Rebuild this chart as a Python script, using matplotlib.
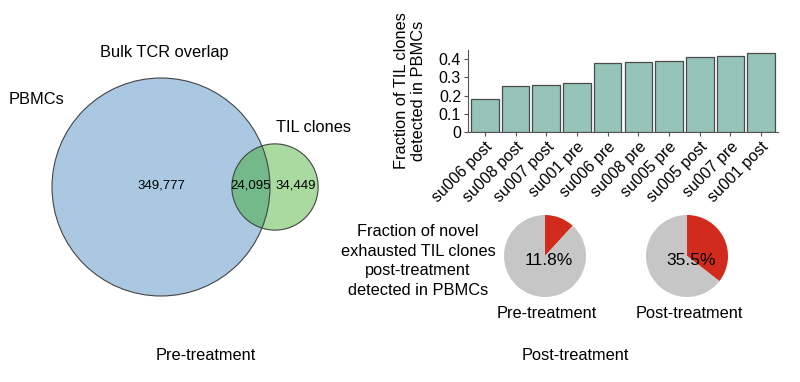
import numpy as np
import matplotlib
matplotlib.use("Agg")
from matplotlib import pyplot as plt
from matplotlib.patches import Circle

plt.rcParams['font.family'] = ['Liberation Sans', 'DejaVu Sans']

# venn counts
pbmc_only = 349777
shared = 24095
til_only = 34449

# bar data
samples = ['su006 post', 'su008 post', 'su007 post', 'su001 pre', 'su006 pre',
           'su008 pre', 'su005 pre', 'su005 post', 'su007 pre', 'su001 post']
fractions = [0.181, 0.254, 0.259, 0.270, 0.380, 0.384, 0.390, 0.409, 0.415, 0.435]
yticks = [0, 0.1, 0.2, 0.3, 0.4]

# pie data
pie_names = ['Pre-treatment', 'Post-treatment']
pie_pcts = [11.8, 35.5]

BLUE = '#aac8e2'
GREEN = '#a9dba0'
OVERLAP = '#74b98a'
TEAL = '#96c4b8'
RED = '#d12b1e'
GREY = '#c6c6c6'

fig = plt.figure(figsize=(8, 3.82), dpi=100)

# full-figure axes in pixel coordinates for venn + free text
ax = fig.add_axes([0, 0, 1, 1])
ax.set_xlim(0, 800)
ax.set_ylim(382, 0)
ax.axis('off')

scale = 109 / np.sqrt(pbmc_only + shared)
r_big = scale * np.sqrt(pbmc_only + shared)
r_small = scale * np.sqrt(til_only + shared)
c_big = (161, 187)
c_small = (275, 187)

big = Circle(c_big, r_big, facecolor=BLUE, edgecolor='none')
small = Circle(c_small, r_small, facecolor=GREEN, edgecolor='none')
ax.add_patch(big)
ax.add_patch(small)
lens = Circle(c_big, r_big, facecolor=OVERLAP, edgecolor='none')
ax.add_patch(lens)
lens.set_clip_path(small)
ax.add_patch(Circle(c_big, r_big, fill=False, edgecolor='#444444', lw=0.8))
ax.add_patch(Circle(c_small, r_small, fill=False, edgecolor='#444444', lw=0.8))

ax.text(161, 186, f'{pbmc_only:,}', ha='center', va='center', fontsize=9.5)
ax.text(251, 186, f'{shared:,}', ha='center', va='center', fontsize=9.5)
ax.text(296, 186, f'{til_only:,}', ha='center', va='center', fontsize=9.5)
ax.text(164, 52, 'Bulk TCR overlap', ha='center', va='center', fontsize=11.8)
ax.text(36, 100, 'PBMCs', ha='center', va='center', fontsize=11.8)
ax.text(313, 128, 'TIL clones', ha='center', va='center', fontsize=11.8)
ax.text(206, 355, 'Pre-treatment', ha='center', va='center', fontsize=11.8)
ax.text(575, 355, 'Post-treatment', ha='center', va='center', fontsize=11.8)
ax.text(418, 261, 'Fraction of novel\nexhausted TIL clones\npost-treatment\ndetected in PBMCs',
        ha='center', va='center', fontsize=11.8, linespacing=1.38)

# bar chart
bx = fig.add_axes([468 / 800, 1 - 132 / 382, 310 / 800, 82 / 382])
pos = np.arange(len(samples))
bx.bar(pos, fractions, width=0.9, color=TEAL, edgecolor='#4a4a4a', linewidth=0.9)
bx.set_xlim(-0.55, len(samples) - 0.45)
bx.set_ylim(0, 0.45)
bx.set_yticks(yticks)
bx.set_yticklabels(['0' if v == 0 else f'{v:.1f}' for v in yticks], fontsize=11.5)
bx.set_xticks(pos)
bx.set_xticklabels(samples, rotation=45, ha='right', rotation_mode='anchor', fontsize=11.5)
bx.spines['top'].set_visible(False)
bx.spines['right'].set_visible(False)
for s in ['left', 'bottom']:
    bx.spines[s].set_color('#555555')
    bx.spines[s].set_linewidth(0.8)
bx.tick_params(length=3, width=0.8, color='#555555', pad=2)
bx.set_ylabel('Fraction of TIL clones\ndetected in PBMCs', fontsize=11.8, labelpad=9,
              linespacing=1.15)

# pies
centers = [545, 687]
for cx, name, pct in zip(centers, pie_names, pie_pcts):
    px = fig.add_axes([(cx - 41) / 800, 1 - 297 / 382, 82 / 800, 82 / 382])
    px.pie([pct, 100 - pct], colors=[RED, GREY], startangle=90, counterclock=False,
           radius=1)
    px.set_xlim(-1, 1)
    px.set_ylim(-1, 1)
    px.set_aspect('equal')
    px.text(0.1, -0.1, f'{pct}%', ha='center', va='center', fontsize=12.5)
    ax.text(cx + 2, 313, name, ha='center', va='center', fontsize=11.8)

fig.savefig('out.png', dpi=100)
